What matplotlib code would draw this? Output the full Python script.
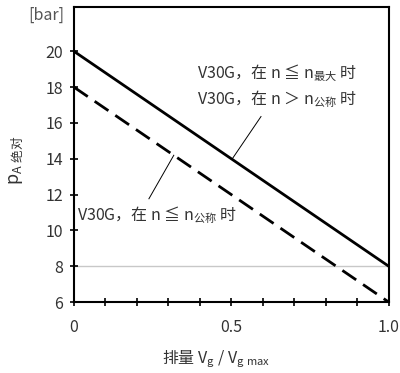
import matplotlib
matplotlib.use("Agg")
import matplotlib.pyplot as plt
import numpy as np

plt.rcParams['font.family'] = ['Noto Sans CJK SC', 'DejaVu Sans']
plt.rcParams['font.weight'] = 'light'
plt.rcParams['mathtext.fontset'] = 'custom'
plt.rcParams['mathtext.rm'] = 'Noto Sans CJK SC:light'
plt.rcParams['mathtext.it'] = 'Noto Sans CJK SC:light'
plt.rcParams['mathtext.default'] = 'rm'

# data
x_vals = [0.0, 1.0]
p_max = [20, 8]        # V30G, n <= n_max / n > n_nom
p_nom = [18, 6]        # V30G, n <= n_nom
y_ticks = [6, 8, 10, 12, 14, 16, 18, 20]
x_ticks = np.arange(0, 1.01, 0.1)
x_labels = {0.0: '0', 0.5: '0.5', 1.0: '1.0'}

txt = '#333333'
fs = 11.5
fig = plt.figure(figsize=(4.0, 3.73), dpi=100)
ax = fig.add_axes([0.185, 0.19, 0.787, 0.79])

ax.plot(x_vals, p_max, color='black', lw=2.0, solid_capstyle='butt')
ax.plot(x_vals, p_nom, color='black', lw=2.0, ls=(0, (6, 3)))
ax.axhline(8, color='#c8c8c8', lw=1.0, zorder=0)

ax.set_xlim(0, 1.0)
ax.set_ylim(6, 22.45)
ax.set_yticks(y_ticks)
ax.set_xticks(x_ticks)
ax.set_xticklabels([x_labels.get(round(v, 1), '') for v in x_ticks])
ax.tick_params(direction='inout', length=6, width=1.2, colors='black',
               labelcolor=txt, labelsize=fs)
ax.tick_params(axis='x', pad=9)
ax.tick_params(axis='y', pad=5)
for s in ax.spines.values():
    s.set_linewidth(1.5)

# labels
fig.text(0.04, 0.57, r'p$_{\mathrm{A\ 绝对}}$', rotation=90, ha='center',
         va='center', fontsize=13, color=txt)
fig.text(0.54, 0.04, r'排量 V$_{\mathrm{g}}$ / V$_{\mathrm{g\ max}}$',
         ha='center', va='center', fontsize=fs, color=txt)
ax.text(-0.03, 22.0, '[bar]', ha='right', va='center', fontsize=fs, color='#555555')

# annotations
ax.text(0.645, 18.75, r'V30G，在 n ≦ n$_{最大}$ 时', ha='center', va='center',
        fontsize=fs, color=txt)
ax.text(0.645, 17.3, r'V30G，在 n ＞ n$_{公称}$ 时', ha='center', va='center',
        fontsize=fs, color=txt)
ax.plot([0.594, 0.502], [16.36, 13.98], color='black', lw=0.7)

ax.text(0.263, 10.87, r'V30G，在 n ≦ n$_{公称}$ 时', ha='center', va='center',
        fontsize=fs, color=txt)
ax.plot([0.238, 0.317], [11.77, 14.2], color='black', lw=0.7)

fig.savefig('out.png', dpi=100)
